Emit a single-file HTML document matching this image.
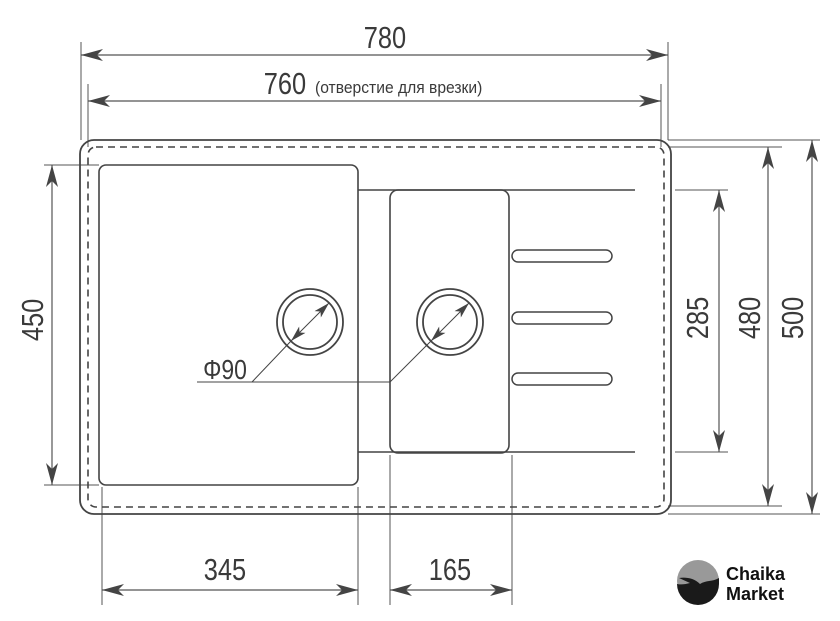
<!DOCTYPE html>
<html><head><meta charset="utf-8"><style>
html,body{margin:0;padding:0;background:#fff;}
svg{display:block;}
.t{font-family:"Liberation Sans",sans-serif;fill:#3a3a3a;}
</style></head><body>
<svg width="840" height="621" viewBox="0 0 840 621" xmlns="http://www.w3.org/2000/svg">
<defs>
<marker id="a" viewBox="0 0 22 12" refX="22" refY="6" markerWidth="22" markerHeight="12" markerUnits="userSpaceOnUse" orient="auto-start-reverse">
<path d="M0,0 L22,6 L0,12 L6,6 Z" fill="#444"/></marker>
<marker id="s" viewBox="0 0 16 9" refX="16" refY="4.5" markerWidth="16" markerHeight="9" markerUnits="userSpaceOnUse" orient="auto-start-reverse">
<path d="M0,0 L16,4.5 L0,9 L4,4.5 Z" fill="#444"/></marker>
</defs>
<g stroke="#555" stroke-width="1" fill="none">
<line x1="81" y1="42" x2="81" y2="140"/>
<line x1="668" y1="42" x2="668" y2="140"/>
<line x1="88" y1="84" x2="88" y2="147"/>
<line x1="661" y1="84" x2="661" y2="147"/>
<line x1="44" y1="165" x2="99" y2="165"/>
<line x1="44" y1="485" x2="99" y2="485"/>
<line x1="668" y1="140" x2="820" y2="140"/>
<line x1="668" y1="147" x2="782" y2="147"/>
<line x1="675" y1="190" x2="728" y2="190"/>
<line x1="675" y1="452" x2="728" y2="452"/>
<line x1="668" y1="506" x2="782" y2="506"/>
<line x1="668" y1="514" x2="820" y2="514"/>
<line x1="102" y1="487" x2="102" y2="605"/>
<line x1="358" y1="487" x2="358" y2="605"/>
<line x1="390" y1="455" x2="390" y2="605"/>
<line x1="512" y1="455" x2="512" y2="605"/>
</g>
<g stroke="#555" stroke-width="1.2" fill="none">
<line x1="81" y1="55" x2="668" y2="55" marker-start="url(#a)" marker-end="url(#a)"/>
<line x1="88" y1="101" x2="661" y2="101" marker-start="url(#a)" marker-end="url(#a)"/>
<line x1="52" y1="165" x2="52" y2="485" marker-start="url(#a)" marker-end="url(#a)"/>
<line x1="719" y1="190" x2="719" y2="452" marker-start="url(#a)" marker-end="url(#a)"/>
<line x1="768" y1="147" x2="768" y2="506" marker-start="url(#a)" marker-end="url(#a)"/>
<line x1="812" y1="140" x2="812" y2="514" marker-start="url(#a)" marker-end="url(#a)"/>
<line x1="102" y1="590" x2="358" y2="590" marker-start="url(#a)" marker-end="url(#a)"/>
<line x1="390" y1="590" x2="512" y2="590" marker-start="url(#a)" marker-end="url(#a)"/>
</g>
<g stroke="#444" fill="none">
<rect x="80" y="140" width="591" height="374" rx="14" stroke-width="1.8"/>
<rect x="88" y="147" width="576" height="360" rx="8" stroke-width="1.6" stroke-dasharray="7,5"/>
<rect x="99" y="165" width="259" height="320" rx="7" stroke-width="1.6"/>
<rect x="390" y="190" width="119" height="263" rx="8" stroke-width="1.6"/>
<line x1="358" y1="190" x2="635" y2="190" stroke-width="1.6"/>
<line x1="358" y1="452" x2="635" y2="452" stroke-width="1.6"/>
<rect x="512" y="250" width="100" height="12" rx="6" stroke-width="1.5"/>
<rect x="512" y="312" width="100" height="12" rx="6" stroke-width="1.5"/>
<rect x="512" y="373" width="100" height="12" rx="6" stroke-width="1.5"/>
<circle cx="310" cy="322" r="33" stroke-width="1.8"/>
<circle cx="310" cy="322" r="27" stroke-width="1.8"/>
<circle cx="450" cy="322" r="33" stroke-width="1.8"/>
<circle cx="450" cy="322" r="27" stroke-width="1.8"/>
</g>
<g stroke="#444" stroke-width="1" fill="none">
<line x1="197" y1="382" x2="390" y2="382"/>
<line x1="252" y1="382" x2="291" y2="341"/>
<line x1="291" y1="341" x2="329" y2="303" marker-start="url(#s)" marker-end="url(#s)"/>
<line x1="390" y1="382" x2="431" y2="341"/>
<line x1="431" y1="341" x2="469" y2="303" marker-start="url(#s)" marker-end="url(#s)"/>
</g>
<g class="t">
<text x="385" y="48" font-size="31" text-anchor="middle" transform="translate(385 0) scale(0.82 1) translate(-385 0)">780</text>
<text x="285" y="94" font-size="31" text-anchor="middle" transform="translate(285 0) scale(0.82 1) translate(-285 0)">760</text>
<text x="315" y="93" font-size="17" transform="translate(315 0) scale(0.92 1) translate(-315 0)">(отверстие для врезки)</text>
<text x="225" y="379" font-size="28" text-anchor="middle" transform="translate(225 0) scale(0.82 1) translate(-225 0)">Φ90</text>
<text x="225" y="580" font-size="31" text-anchor="middle" transform="translate(225 0) scale(0.82 1) translate(-225 0)">345</text>
<text x="450" y="580" font-size="31" text-anchor="middle" transform="translate(450 0) scale(0.82 1) translate(-450 0)">165</text>
<g transform="translate(43 320) rotate(-90)"><text x="0" y="0" font-size="31" text-anchor="middle" transform="scale(0.82 1)">450</text></g>
<g transform="translate(708 318) rotate(-90)"><text x="0" y="0" font-size="31" text-anchor="middle" transform="scale(0.82 1)">285</text></g>
<g transform="translate(760 318) rotate(-90)"><text x="0" y="0" font-size="31" text-anchor="middle" transform="scale(0.82 1)">480</text></g>
<g transform="translate(803 318) rotate(-90)"><text x="0" y="0" font-size="31" text-anchor="middle" transform="scale(0.82 1)">500</text></g>
</g>
<circle cx="698" cy="581" r="21" fill="#999"/>
<path d="M677,584 A21,21 0 0 0 719,584 L719,578 C712,582 706,580 700,584 C694,578 686,577 679,578 L690,583 C686,584 682,585 677,584 Z" fill="#1a1a1a"/>
<path d="M678,588 A21,21 0 0 0 718,588 C710,592 702,594 695,590 Z" fill="#1a1a1a"/>
<text x="726" y="580" font-family="Liberation Sans,sans-serif" font-size="18" font-weight="bold" fill="#111">Chaika</text>
<text x="726" y="600" font-family="Liberation Sans,sans-serif" font-size="18" font-weight="bold" fill="#111">Market</text>
</svg>
</body></html>
